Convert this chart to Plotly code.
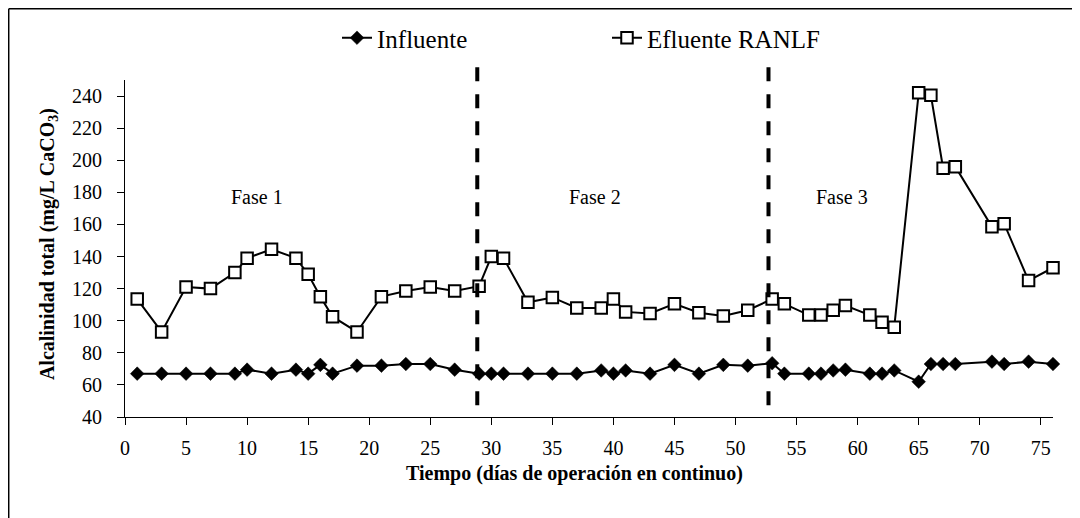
import plotly.graph_objects as go

# ---------------- data ----------------
days = [1, 3, 5, 7, 9, 10, 12, 14, 15, 16, 17, 19, 21, 23, 25, 27, 29, 30, 31, 33,
        35, 37, 39, 40, 41, 43, 45, 47, 49, 51, 53, 54, 56, 57, 58, 59, 61, 62, 63,
        65, 66, 67, 68, 71, 72, 74, 76]
influente = [67, 67, 67, 67, 67, 69.5, 67, 69.5, 67, 72.5, 67, 72, 72, 73, 73, 69.5,
             67, 67, 67, 67, 67, 67, 69, 67, 69, 67, 72.5, 67, 72.5, 72, 73.5, 67,
             67, 67, 69, 69.5, 67, 67, 69, 62, 73, 73, 73, 74.5, 73, 74.5, 73]
efluente = [113.5, 93, 121, 120, 130, 139, 144.5, 139, 129, 115, 102.5, 93, 115,
            118.5, 121, 118.5, 121.5, 140, 139, 111.5, 114.5, 108, 108, 113.5, 105.5,
            104.5, 110.5, 105, 103, 106.5, 113.5, 110.5, 103.5, 103.5, 106.5, 109.5,
            103.5, 99, 96, 242, 240.5, 195, 196, 158.5, 160.5, 125, 133]
phase_limits = [28.85, 52.7]
phase_labels = ["Fase 1", "Fase 2", "Fase 3"]
phase_label_x = [10.8, 38.5, 58.7]
phase_label_y = 177

FONT = "Liberation Serif, Times New Roman, serif"

# ---------------- geometry (figure pixels; page has an 8px body margin) ----------------
W, H = 1072, 510
L, R, T, B = 117, 1044.7, 72, 408.7
PW, PH = R - L, B - T


def px(x):
    return (x - L) / PW


def py(y):
    return (B - y) / PH


fig = go.Figure()
fig.add_trace(go.Scatter(
    x=days, y=influente, name="Influente", mode="lines+markers",
    line=dict(color="black", width=2),
    marker=dict(symbol="diamond", size=10.5, color="black",
                line=dict(color="black", width=0.5)),
    cliponaxis=False,
))
fig.add_trace(go.Scatter(
    x=days, y=efluente, name="Efluente RANLF", mode="lines+markers",
    line=dict(color="black", width=2),
    marker=dict(symbol="square", size=11.5, color="white",
                line=dict(color="black", width=2)),
    cliponaxis=False,
))

shapes = []
for xv in phase_limits:
    shapes.append(dict(type="line", xref="x", yref="paper", x0=xv, x1=xv,
                       y0=py(397), y1=py(54),
                       line=dict(color="black", width=4, dash="14px,13px")))
# chart-area border
shapes.append(dict(type="line", xref="paper", yref="paper", x0=px(0.75), x1=px(0.75),
                   y0=py(0.75), y1=py(512), line=dict(color="black", width=1.5)))
shapes.append(dict(type="line", xref="paper", yref="paper", x0=px(0.75), x1=px(1069),
                   y0=py(0.75), y1=py(0.75), line=dict(color="black", width=1.5)))
shapes.append(dict(type="line", xref="paper", yref="paper", x0=px(1069), x1=px(1069),
                   y0=py(0.75), y1=py(512), line=dict(color="black", width=1.5)))

annotations = []
for lab, xv in zip(phase_labels, phase_label_x):
    annotations.append(dict(x=xv, y=phase_label_y, xref="x", yref="y", text=lab,
                            showarrow=False, font=dict(family=FONT, size=20, color="black")))
annotations.append(dict(x=px(566), y=py(465), xref="paper", yref="paper",
                        text="<b>Tiempo (días de operación en continuo)</b>",
                        showarrow=False, xanchor="center", yanchor="middle",
                        font=dict(family=FONT, size=20, color="black")))
annotations.append(dict(x=px(40), y=py(236), xref="paper", yref="paper",
                        text="<b>Alcalinidad total (mg/L CaCO<sub>3</sub>)</b>",
                        showarrow=False, textangle=-90, xanchor="center", yanchor="middle",
                        font=dict(family=FONT, size=20, color="black")))

fig.update_layout(
    width=W, height=H,
    margin=dict(l=L, r=W - R, t=T, b=H - B, pad=0, autoexpand=False),
    paper_bgcolor="white", plot_bgcolor="white",
    font=dict(family=FONT, size=20, color="black"),
    showlegend=True,
    legend=dict(orientation="h", xref="container", yref="container",
                x=329 / W, xanchor="left", y=1 - 30 / H, yanchor="middle",
                font=dict(family=FONT, size=25, color="black"),
                entrywidth=225, entrywidthmode="pixels",
                bgcolor="rgba(0,0,0,0)", borderwidth=0),
    shapes=shapes, annotations=annotations,
)
fig.update_xaxes(range=[0, 76], tickmode="linear", tick0=0, dtick=5,
                 showline=True, linecolor="black", linewidth=1.2,
                 ticks="outside", ticklen=7, tickwidth=1.2, tickcolor="black",
                 showgrid=False, zeroline=False, ticklabelstandoff=6,
                 tickfont=dict(family=FONT, size=20, color="black"))
fig.update_yaxes(range=[40, 250], tickmode="linear", tick0=40, dtick=20,
                 showline=True, linecolor="black", linewidth=1.2,
                 ticks="outside", ticklen=7, tickwidth=1.2, tickcolor="black",
                 showgrid=False, zeroline=False, ticklabelstandoff=11,
                 tickfont=dict(family=FONT, size=20, color="black"))

fig.write_html("out.html")
